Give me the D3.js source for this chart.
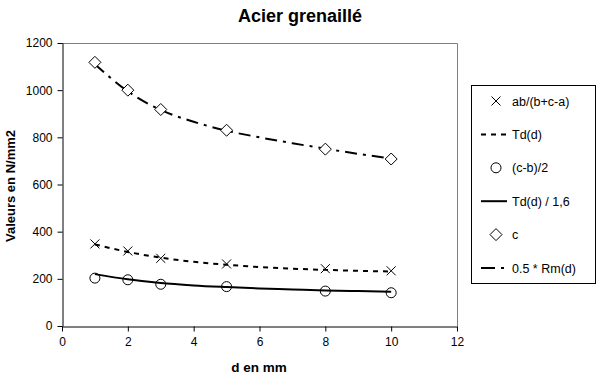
<!DOCTYPE html>
<html>
<head>
<meta charset="utf-8">
<script src="https://cdn.jsdelivr.net/npm/d3@7"></script>
<style>
  body { margin: 0; background: #fff; }
  svg text { font-family: "Liberation Sans", Arial, sans-serif; }
</style>
</head>
<body>
<div id="chart"></div>
<script>
// data
var dMarkers = [1, 2, 3, 5, 8, 10];
var abValues = [348, 318, 287, 263, 243, 234];   // ab/(b+c-a)
var cbValues = [203, 196, 177, 167, 148, 141];   // (c-b)/2
var cValues  = [1118, 1000, 918, 830, 750, 708]; // c

var dLines = [1, 2, 3, 4, 5, 6, 7, 8, 9, 10];
var tdValues   = [346, 314, 290, 272, 260, 250, 243, 238, 234, 231];   // Td(d)
var td16Values = [220, 198, 182, 172, 165, 159, 155, 151, 148, 145];   // Td(d) / 1,6
var rmValues   = [1110, 995, 916, 866, 828, 800, 775, 752, 730, 710];  // 0.5 * Rm(d)

var xTicks = [0, 2, 4, 6, 8, 10, 12];
var yTicks = [0, 200, 400, 600, 800, 1000, 1200];

var W = 607, H = 384;
var plot = {left: 62, top: 43, right: 457, bottom: 326};

var svg = d3.select("#chart").append("svg")
    .attr("width", W).attr("height", H);

var x = d3.scaleLinear().domain([0, 12]).range([plot.left, plot.right]);
var y = d3.scaleLinear().domain([0, 1200]).range([plot.bottom, plot.top]);

// title
svg.append("text")
    .attr("x", 300).attr("y", 22)
    .attr("text-anchor", "middle")
    .style("font-size", "18px").style("font-weight", "bold")
    .text("Acier grenaillé");

// gray frame top and right
svg.append("path")
    .attr("d", "M" + plot.left + "," + (plot.top + 0.5) + "H" + (plot.right + 0.5) + "V" + plot.bottom)
    .attr("fill", "none").attr("stroke", "#808080");

// axes
svg.append("g")
    .attr("transform", "translate(0," + (plot.bottom + 0.5) + ")")
    .call(d3.axisBottom(x).tickValues(xTicks).tickFormat(d3.format("d"))
      .tickSize(5).tickSizeOuter(0).tickPadding(6));
svg.append("g")
    .attr("transform", "translate(" + (plot.left + 0.5) + ",0)")
    .call(d3.axisLeft(y).tickValues(yTicks).tickFormat(d3.format("d"))
      .tickSize(5).tickSizeOuter(0).tickPadding(5));
svg.selectAll(".tick text").attr("fill", "#000")
    .style("font-size", "12px")
    .style("font-family", "'Liberation Sans', Arial, sans-serif");
svg.selectAll(".domain, .tick line").attr("stroke", "#000");

// axis titles
svg.append("text")
    .attr("x", 259).attr("y", 372)
    .attr("text-anchor", "middle")
    .style("font-size", "13.5px").style("font-weight", "bold")
    .text("d en mm");
svg.append("text")
    .attr("transform", "translate(15,186) rotate(-90)")
    .attr("text-anchor", "middle")
    .style("font-size", "13px").style("font-weight", "bold")
    .text("Valeurs en N/mm2");

// lines
var line = d3.line()
    .x(function(d) { return x(d[0]); })
    .y(function(d) { return y(d[1]); })
    .curve(d3.curveMonotoneX);

var lineSeries = [
  {vals: tdValues, dash: "5,5"},
  {vals: td16Values, dash: null},
  {vals: rmValues, dash: "12,6,3,6"}
];
lineSeries.forEach(function(s) {
  svg.append("path")
      .datum(d3.zip(dLines, s.vals))
      .attr("d", line)
      .attr("fill", "none")
      .attr("stroke", "#000")
      .attr("stroke-width", 2)
      .attr("stroke-dasharray", s.dash);
});

// marker shapes
function drawMarker(g, kind, cx, cy) {
  if (kind === "x") {
    g.append("path")
      .attr("d", "M" + (cx - 4.5) + "," + (cy - 4.5) + "L" + (cx + 4.5) + "," + (cy + 4.5) +
                 "M" + (cx - 4.5) + "," + (cy + 4.5) + "L" + (cx + 4.5) + "," + (cy - 4.5))
      .attr("stroke", "#000").attr("fill", "none");
  } else if (kind === "o") {
    g.append("circle").attr("cx", cx).attr("cy", cy).attr("r", 5)
      .attr("stroke", "#000").attr("fill", "none");
  } else {
    g.append("path")
      .attr("d", "M" + cx + "," + (cy - 6) + "L" + (cx + 6) + "," + cy +
                 "L" + cx + "," + (cy + 6) + "L" + (cx - 6) + "," + cy + "Z")
      .attr("stroke", "#000").attr("fill", "#fff");
  }
}

var markerSeries = [
  {vals: abValues, kind: "x"},
  {vals: cbValues, kind: "o"},
  {vals: cValues, kind: "d"}
];
var gm = svg.append("g");
markerSeries.forEach(function(s) {
  dMarkers.forEach(function(d, i) {
    drawMarker(gm, s.kind, x(d), y(s.vals[i]));
  });
});

// legend
var legend = svg.append("g");
legend.append("rect")
    .attr("x", 471.5).attr("y", 85.5).attr("width", 124).attr("height", 198)
    .attr("fill", "#fff").attr("stroke", "#000");

var legendItems = [
  {label: "ab/(b+c-a)", kind: "x"},
  {label: "Td(d)", dash: "5,5"},
  {label: "(c-b)/2", kind: "o"},
  {label: "Td(d) / 1,6", dash: "none"},
  {label: "c", kind: "d"},
  {label: "0.5 * Rm(d)", dash: "14,6,3,6"}
];
legendItems.forEach(function(it, i) {
  var cy = 101 + i * 33.4;
  if (it.kind) {
    drawMarker(legend, it.kind, 496, cy);
  } else {
    legend.append("line")
        .attr("x1", 481).attr("x2", 507).attr("y1", cy).attr("y2", cy)
        .attr("stroke", "#000").attr("stroke-width", 2)
        .attr("stroke-dasharray", it.dash);
  }
  legend.append("text")
      .attr("x", 512).attr("y", cy + 4.5)
      .style("font-size", "12.5px")
      .text(it.label);
});
</script>
</body>
</html>
